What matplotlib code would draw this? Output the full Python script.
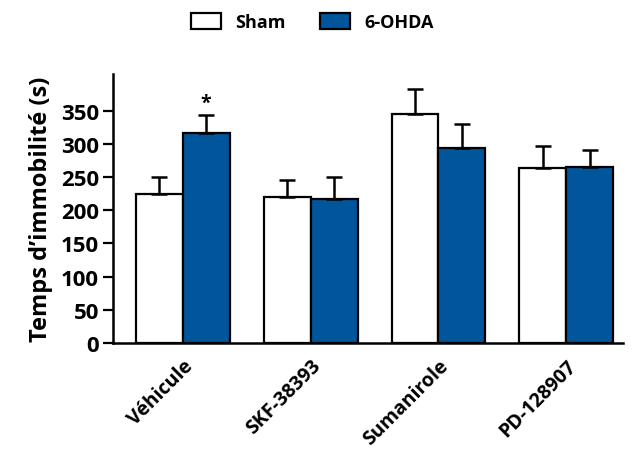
import numpy as np
import matplotlib.pyplot as plt
from matplotlib.transforms import ScaledTranslation

plt.rcParams['font.family'] = ['Open Sans', 'DejaVu Sans']
plt.rcParams['font.weight'] = 'bold'

# Données
groups = ['Véhicule', 'SKF-38393', 'Sumanirole', 'PD-128907']
sham = [225, 220, 345, 263]
sham_err = [25, 26, 38, 34]
ohda = [316, 217, 294, 265]
ohda_err = [28, 33, 35, 26]

blue = '#00559b'
x = np.arange(len(groups))
w = 0.367

fig = plt.figure(figsize=(6.38, 4.52), dpi=100)
ax = fig.add_axes([0.177, 0.239, 0.799, 0.595])

err_kw = dict(ecolor='black', elinewidth=1.8, capsize=6, capthick=1.8)
ax.bar(x - w / 2, sham, w, color='white', edgecolor='black', linewidth=1.6,
       yerr=[np.zeros(4), sham_err], error_kw=err_kw, label='Sham', zorder=3)
ax.bar(x + w / 2, ohda, w, color=blue, edgecolor='black', linewidth=1.6,
       yerr=[np.zeros(4), ohda_err], error_kw=err_kw, label='6-OHDA', zorder=3)

# astérisque
ax.text(x[0] + w / 2, ohda[0] + ohda_err[0] + 2, '*', ha='center', va='bottom',
        fontsize=14, fontweight='bold')

ax.set_xlim(-0.545, 3.44)
ax.set_ylim(0, 405)
ax.set_yticks(np.arange(0, 351, 50))
ax.set_xticks(x)
ax.set_xticklabels(groups, rotation=45, ha='right', rotation_mode='anchor',
                   fontsize=14, fontweight='bold')
shift = ScaledTranslation(12 / 100, 0, fig.dpi_scale_trans)
for lab in ax.get_xticklabels():
    lab.set_transform(lab.get_transform() + shift)
ax.tick_params(axis='x', length=0, pad=9)
ax.tick_params(axis='y', length=7, width=1.6, labelsize=16, pad=3)
for lab in ax.get_yticklabels():
    lab.set_fontweight('bold')
ax.set_ylabel("Temps d’immobilité (s)", fontsize=17, fontweight='bold', labelpad=6)

for s in ['top', 'right']:
    ax.spines[s].set_visible(False)
for s in ['left', 'bottom']:
    ax.spines[s].set_linewidth(1.8)

fig.legend(loc='upper center', bbox_to_anchor=(0.49, 1.005), ncol=2, frameon=False,
           handlelength=1.65, handleheight=1.0, columnspacing=1.9, handletextpad=0.8,
           prop={'weight': 'bold', 'size': 13})

fig.savefig('out.png', dpi=100)
